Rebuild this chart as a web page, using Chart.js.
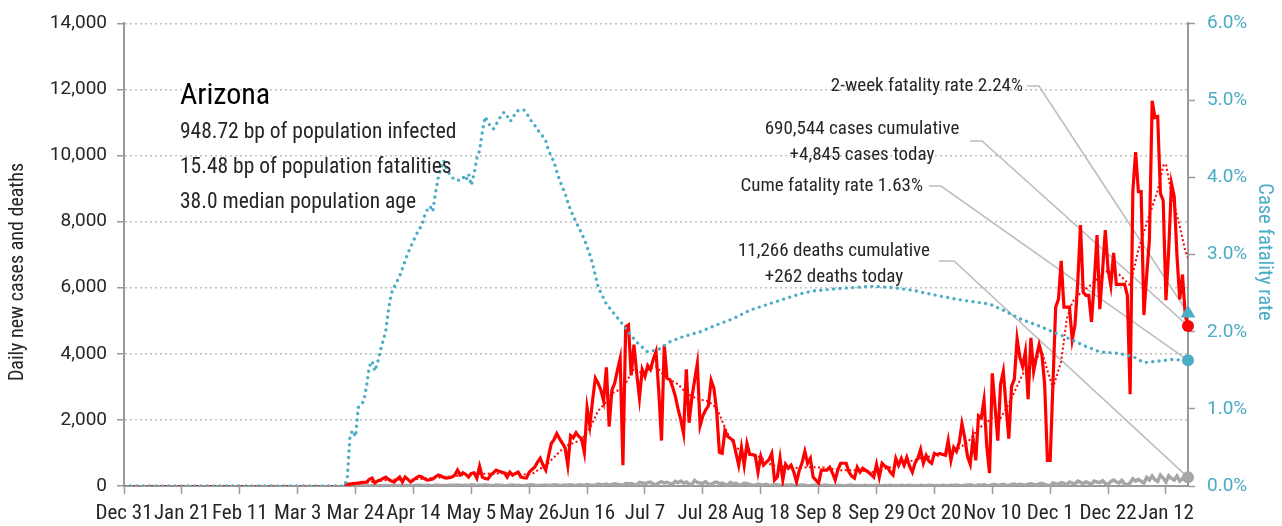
<!DOCTYPE html>
<html>
<head>
<meta charset="utf-8">
<title>Arizona</title>
<script src="https://cdn.jsdelivr.net/npm/chart.js@4.4.0/dist/chart.umd.min.js"></script>
<style>
  html, body { margin: 0; padding: 0; background: #fff; }
  #wrap { width: 1282px; height: 526px; }
</style>
</head>
<body>
<div id="wrap"><canvas id="chart" width="1282" height="526"></canvas></div>
<script>
// Day numbers are days after Dec 31, 2019
const firstDay = 80;
const lastDay = 386;

// X axis ticks
const tickDays = [0, 21, 42, 63, 84, 105, 126, 147, 168, 189, 210, 231, 252, 273, 294, 315, 336, 357, 378];
const tickLabels = ["Dec 31", "Jan 21", "Feb 11", "Mar 3", "Mar 24", "Apr 14", "May 5", "May 26", "Jun 16",
  "Jul 7", "Jul 28", "Aug 18", "Sep 8", "Sep 29", "Oct 20", "Nov 10", "Dec 1", "Dec 22", "Jan 12"];

// Daily new cases, one value per day starting at firstDay
const dailyCases = [
  45, 55, 60, 70, 80, 90, 100, 110, 120, 200,
  240, 90, 150, 180, 230, 270, 200, 150, 120, 200,
  270, 120, 270, 200, 120, 180, 250, 300, 280, 220,
  180, 190, 210, 280, 330, 300, 260, 240, 250, 270,
  330, 480, 330, 400, 350, 270, 380, 400, 240, 600,
  270, 230, 210, 330, 400, 480, 450, 420, 400, 270,
  420, 330, 380, 420, 270, 250, 240, 420, 500, 570,
  720, 840, 630, 480, 900, 1285, 1400, 1585, 1435, 1300,
  1166, 628, 1525, 1460, 1615, 1500, 1435, 1017, 2362, 1824,
  2600, 3259, 3110, 2900, 2570, 3588, 1794, 2900, 3110, 3498,
  3857, 628, 4814, 4874, 3349, 4276, 3409, 2661, 3528, 3319,
  3648, 3528, 3827, 4066, 2870, 1375, 4276, 3259, 3229, 3000,
  2721, 2332, 2000, 1585, 3528, 1914, 2661, 3200, 3708, 1824,
  2123, 2300, 2422, 3199, 2960, 2272, 1017, 987, 1674, 1500,
  1435, 1375, 1000, 628, 1166, 628, 1286, 957, 950, 927,
  419, 897, 628, 718, 800, 987, 180, 270, 837, 180,
  658, 540, 628, 420, 120, 478, 700, 1046, 688, 837,
  270, 180, 90, 478, 478, 478, 568, 400, 180, 500,
  688, 688, 688, 420, 300, 240, 568, 420, 538, 480,
  420, 350, 270, 658, 270, 688, 600, 568, 420, 330,
  837, 628, 837, 628, 867, 600, 420, 700, 837, 1106,
  688, 927, 750, 688, 987, 950, 987, 950, 927, 1375,
  778, 1166, 1046, 1315, 1884, 1465, 900, 658, 1435, 778,
  2123, 2063, 2601, 1200, 389, 3409, 2400, 1375, 3080, 3468,
  2400, 1435, 3020, 3229, 4455, 3900, 3618, 4066, 2631, 4485,
  3468, 3900, 4276, 3977, 3080, 778, 778, 3080, 5412, 5651,
  6817, 5412, 5412, 5412, 4425, 4874, 6159, 7900, 5860, 5770,
  5770, 4963, 6200, 7595, 5352, 6500, 7744, 6548, 6070, 7056,
  6100, 6100, 6100, 6100, 5770, 2780, 8940, 10106, 8910, 8910,
  5173, 6370, 7445, 11661, 11153, 11183, 8850, 8641, 5621, 7146,
  9150, 8760, 6966, 5651, 6400, 5173, 4845
];

// Daily deaths, same days
const dailyDeaths = [
  0, 1, 2, 1, 3, 2, 4, 3, 5, 7,
  4, 6, 8, 5, 10, 12, 8, 6, 14, 10,
  12, 9, 15, 18, 11, 8, 20, 22, 15, 18,
  25, 12, 10, 20, 24, 18, 16, 9, 22, 26,
  20, 30, 15, 12, 24, 18, 35, 28, 12, 20,
  25, 30, 22, 14, 18, 28, 20, 26, 10, 15,
  22, 30, 18, 25, 12, 8, 20, 28, 35, 22,
  18, 12, 25, 30, 15, 20, 38, 28, 18, 15,
  30, 25, 35, 20, 12, 40, 28, 22, 45, 30,
  25, 20, 55, 40, 35, 60, 20, 45, 70, 50,
  40, 25, 80, 60, 75, 45, 30, 110, 90, 70,
  100, 120, 60, 40, 95, 130, 90, 110, 80, 60,
  140, 100, 150, 90, 120, 60, 40, 170, 110, 90,
  80, 130, 60, 40, 100, 120, 70, 90, 50, 30,
  110, 60, 80, 40, 30, 90, 70, 50, 30, 20,
  60, 40, 30, 50, 20, 15, 40, 35, 25, 10,
  30, 20, 45, 15, 5, 25, 30, 20, 10, 5,
  20, 25, 15, 10, 30, 20, 5, 15, 10, 20,
  15, 5, 10, 25, 20, 8, 15, 10, 5, 20,
  10, 15, 5, 20, 12, 8, 15, 10, 20, 5,
  15, 10, 25, 8, 12, 20, 5, 15, 10, 25,
  12, 8, 20, 15, 5, 18, 10, 25, 12, 8,
  20, 15, 30, 10, 8, 25, 20, 35, 15, 10,
  30, 25, 40, 15, 10, 35, 45, 20, 30, 50,
  25, 15, 45, 60, 30, 50, 40, 20, 55, 70,
  45, 30, 60, 80, 50, 20, 10, 90, 70, 55,
  100, 80, 40, 120, 90, 60, 150, 110, 70, 130,
  90, 60, 150, 120, 100, 160, 80, 50, 140, 180,
  120, 90, 170, 60, 30, 100, 220, 150, 200, 140,
  90, 260, 180, 300, 190, 140, 330, 240, 120, 310,
  230, 180, 300, 150, 220, 320, 262
];

// 7-day average of cases, read at these days
const avgDays = [0, 80, 84, 88, 92, 96, 100, 105, 110, 115, 120, 125, 130, 135, 140, 145, 148, 151, 154, 157,
  160, 163, 166, 169, 172, 175, 177, 181, 183, 185, 188, 191, 193, 197, 201, 204, 208, 212, 215, 219,
  222, 226, 231, 235, 240, 245, 248, 254, 260, 266, 272, 278, 284, 290, 296, 301, 306, 310, 315, 318,
  321, 326, 330, 333, 335, 337, 340, 342, 344, 346, 351, 356, 361, 365, 368, 371, 375, 377, 378, 380,
  383, 385, 386];
const avgCases = [0, 0, 60, 100, 150, 190, 200, 200, 230, 260, 300, 350, 370, 380, 390, 350, 360, 520, 700, 950,
  1200, 1300, 1400, 1750, 2270, 2550, 2810, 2960, 3260, 3560, 3410, 3560, 3618, 3260, 3080, 2810, 2630, 2570, 2360, 1585,
  1166, 987, 867, 628, 580, 538, 568, 560, 478, 478, 420, 568, 718, 867, 927, 1046, 1315, 1735, 2060, 2060,
  2480, 3380, 3770, 4066, 3500, 2960, 3770, 5050, 5560, 5770, 6100, 6500, 6400, 6070, 7150, 7950, 8940, 9690, 9750, 8850,
  7860, 7115, 6900];

// Cumulative case fatality rate (%), read at these days
const cfrDays = [0, 80, 81, 82, 83, 84, 85, 86, 87, 88, 89, 90, 91, 92, 93, 94, 95, 96, 97, 98,
  100, 102, 103, 105, 107, 108, 109, 110, 111, 112, 113, 114, 115, 116, 117, 118, 119, 121, 122, 123,
  124, 125, 126, 127, 128, 129, 130, 131, 132, 133, 134, 135, 136, 137, 138, 139, 140, 141, 142, 143,
  144, 145, 146, 147, 148, 149, 150, 151, 152, 153, 154, 155, 156, 157, 158, 159, 160, 161, 162, 163,
  165, 167, 169, 170, 172, 175, 177, 180, 184, 187, 190, 194, 198, 203, 209, 215, 221, 227, 233, 239,
  245, 250, 259, 271, 277, 286, 295, 304, 314, 319, 325, 331, 337, 343, 349, 354, 361, 366, 370, 375,
  380, 386];
const cfrValues = [0, 0, 0.1, 0.65, 0.72, 0.64, 1.02, 1.06, 1.1, 1.3, 1.55, 1.62, 1.49, 1.6, 1.76, 1.88, 2.02, 2.3, 2.5, 2.58,
  2.72, 2.92, 3.02, 3.18, 3.33, 3.37, 3.5, 3.58, 3.63, 3.56, 3.8, 4.0, 4.12, 4.22, 4.12, 4.05, 4.0, 3.96, 3.98, 4.01,
  3.96, 4.05, 3.9, 4.05, 4.25, 4.35, 4.6, 4.79, 4.72, 4.66, 4.63, 4.69, 4.75, 4.82, 4.85, 4.8, 4.73, 4.76, 4.85, 4.87,
  4.87, 4.88, 4.84, 4.78, 4.72, 4.68, 4.62, 4.58, 4.53, 4.48, 4.35, 4.28, 4.2, 4.08, 3.97, 3.88, 3.8, 3.68, 3.58, 3.5,
  3.35, 3.2, 3.0, 2.88, 2.58, 2.36, 2.27, 2.14, 1.95, 1.83, 1.74, 1.77, 1.87, 1.94, 2.0, 2.09, 2.17, 2.28, 2.35, 2.42,
  2.49, 2.53, 2.56, 2.59, 2.58, 2.54, 2.47, 2.41, 2.36, 2.28, 2.17, 2.09, 2.0, 1.91, 1.81, 1.74, 1.72, 1.68, 1.6, 1.62,
  1.64, 1.63];

// Summary figures
const stateName = "Arizona";
const bpInfected = 948.72;
const bpFatalities = 15.48;
const medianAge = 38.0;
const casesCumulative = 690544;
const casesToday = 4845;
const deathsCumulative = 11266;
const deathsToday = 262;
const cfrCumulative = 1.63;
const cfrTwoWeek = 2.24;

const FONT = '"Roboto Condensed", "DejaVu Sans Condensed", sans-serif';
const NUMFONT = 'Roboto, "DejaVu Sans", sans-serif';
const RED = "#ff0000";
const BLUE = "#4bacc6";
const GREY = "#a6a6a6";
const AXIS = "#9a9a9a";
const TEXT = "#262626";

const fmt = n => n.toLocaleString("en-US");
const series = (start, values) => values.map((v, i) => ({ x: start + i, y: v }));
const pairs = (days, values) => days.map((d, i) => ({ x: d, y: values[i] }));

// Text block and leader lines drawn on top of the chart
const notesPlugin = {
  id: "notes",
  beforeDatasetsDraw(chart) {
    const { ctx, scales } = chart;
    const xEnd = scales.x.getPixelForValue(lastDay);
    const leaders = [
      [1027, 86, 1039, scales.y1.getPixelForValue(cfrTwoWeek)],
      [970, 141, 982, scales.y.getPixelForValue(casesToday)],
      [929, 186, 941, scales.y1.getPixelForValue(cfrCumulative)],
      [939, 261, 954, scales.y.getPixelForValue(deathsToday)]
    ];
    ctx.save();
    ctx.strokeStyle = "#bdbdbd";
    ctx.lineWidth = 1.6;
    for (const [x0, y0, x1, yEnd] of leaders) {
      ctx.beginPath();
      ctx.moveTo(x0, y0);
      ctx.lineTo(x1, y0);
      ctx.lineTo(xEnd, yEnd);
      ctx.stroke();
    }
    ctx.restore();
  },
  afterDraw(chart) {
    const ctx = chart.ctx;
    const write = (str, x, y, size, color, align) => {
      ctx.font = size + "px " + FONT;
      ctx.fillStyle = color;
      ctx.textAlign = align;
      ctx.textBaseline = "middle";
      ctx.fillText(str, x, y);
    };
    ctx.save();
    write(stateName, 180, 96, 30, "#000", "left");
    write(bpInfected.toFixed(2) + " bp of population infected", 180, 133, 21.5, TEXT, "left");
    write(bpFatalities.toFixed(2) + " bp of population fatalities", 180, 168, 21.5, TEXT, "left");
    write(medianAge.toFixed(1) + " median population age", 180, 203, 21.5, TEXT, "left");

    write("2-week fatality rate " + cfrTwoWeek.toFixed(2) + "%", 1023, 86, 19, TEXT, "right");
    write(fmt(casesCumulative) + " cases cumulative", 862, 129, 19, TEXT, "center");
    write("+" + fmt(casesToday) + " cases today", 862, 155, 19, TEXT, "center");
    write("Cume fatality rate " + cfrCumulative.toFixed(2) + "%", 923, 186, 19, TEXT, "right");
    write(fmt(deathsCumulative) + " deaths cumulative", 834, 251, 19, TEXT, "center");
    write("+" + deathsToday + " deaths today", 834, 277, 19, TEXT, "center");

    // axis titles
    ctx.save();
    ctx.translate(18, 272);
    ctx.rotate(-Math.PI / 2);
    write("Daily new cases and deaths", 0, 0, 20, TEXT, "center");
    ctx.restore();
    ctx.save();
    ctx.translate(1264, 252);
    ctx.rotate(Math.PI / 2);
    write("Case fatality rate", 0, 0, 20.5, BLUE, "center");
    ctx.restore();
    ctx.restore();
  }
};

const marker = (axis, value, style, radius, color) => ({
  data: [{ x: lastDay, y: value }],
  yAxisID: axis,
  showLine: false,
  pointStyle: style,
  pointRadius: radius,
  backgroundColor: color,
  borderColor: color,
  borderWidth: 0,
  clip: false,
  order: 0
});

new Chart(document.getElementById("chart"), {
  type: "line",
  data: {
    datasets: [
      marker("y1", cfrTwoWeek, "triangle", 8.5, BLUE),
      marker("y", casesToday, "circle", 6, RED),
      marker("y1", cfrCumulative, "circle", 6, BLUE),
      marker("y", deathsToday, "circle", 6, GREY),
      {
        data: pairs(cfrDays, cfrValues),
        yAxisID: "y1",
        borderColor: BLUE,
        borderWidth: 3.4,
        borderDash: [0, 6.4],
        borderCapStyle: "round",
        pointRadius: 0,
        tension: 0,
        order: 1
      },
      {
        data: pairs(avgDays, avgCases),
        yAxisID: "y",
        borderColor: RED,
        borderWidth: 2,
        borderDash: [2, 2.5],
        pointRadius: 0,
        tension: 0,
        order: 2
      },
      {
        data: series(firstDay, dailyCases),
        yAxisID: "y",
        borderColor: RED,
        borderWidth: 3.2,
        pointRadius: 0,
        tension: 0,
        order: 3
      },
      {
        data: series(firstDay, dailyDeaths),
        yAxisID: "y",
        borderColor: GREY,
        borderWidth: 3.5,
        pointRadius: 0,
        tension: 0,
        order: 4
      }
    ]
  },
  options: {
    responsive: false,
    animation: false,
    events: [],
    layout: { padding: { top: 18, left: 0, right: 0, bottom: 0 } },
    plugins: { legend: { display: false }, tooltip: { enabled: false } },
    scales: {
      x: {
        type: "linear",
        min: 0,
        max: lastDay,
        afterBuildTicks: s => { s.ticks = tickDays.map(v => ({ value: v })); },
        afterFit: s => { s.height = 40; },
        ticks: {
          autoSkip: false,
          maxRotation: 0,
          padding: 7,
          color: TEXT,
          font: { family: FONT, size: 21 },
          callback: v => tickLabels[tickDays.indexOf(v)]
        },
        grid: { drawOnChartArea: false, tickLength: 8, tickColor: AXIS, tickWidth: 1.5 },
        border: { color: AXIS, width: 2 }
      },
      y: {
        position: "left",
        min: 0,
        max: 14000,
        afterFit: s => { s.width = 124; },
        ticks: {
          stepSize: 2000,
          padding: 10,
          color: TEXT,
          font: { family: NUMFONT, size: 19 },
          callback: v => fmt(v)
        },
        grid: { color: "#bfbfbf", lineWidth: 1.5, tickLength: 7, tickColor: AXIS, tickWidth: 1.5 },
        border: { color: AXIS, width: 2, dash: [2, 3] }
      },
      y1: {
        position: "right",
        min: 0,
        max: 6,
        afterFit: s => { s.width = 94; },
        ticks: {
          stepSize: 1,
          padding: 12,
          color: BLUE,
          font: { family: NUMFONT, size: 19 },
          callback: v => v.toFixed(1) + "%"
        },
        grid: { drawOnChartArea: false, tickLength: 7, tickColor: AXIS, tickWidth: 1.5 },
        border: { color: AXIS, width: 2 }
      }
    }
  },
  plugins: [notesPlugin]
});
</script>
</body>
</html>
